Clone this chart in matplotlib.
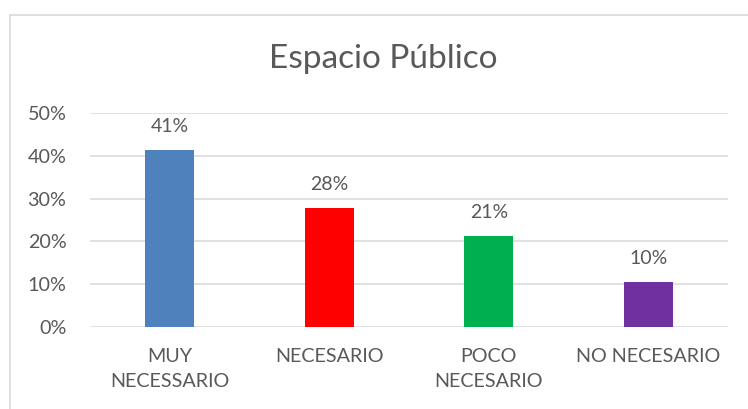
import matplotlib
matplotlib.use("Agg")
import matplotlib.pyplot as plt
from matplotlib.lines import Line2D

categories = ["MUY\nNECESSARIO", "NECESARIO", "POCO\nNECESARIO", "NO NECESARIO"]
values = [0.414, 0.278, 0.212, 0.104]
labels = ["41%", "28%", "21%", "10%"]
colors = ["#4F81BD", "#FF0000", "#00B050", "#7030A0"]
yticks = [0, 0.1, 0.2, 0.3, 0.4, 0.5]

W, H = 748, 409
txt = "#595959"
plt.rcParams["font.family"] = ["Lato", "DejaVu Sans"]

fig = plt.figure(figsize=(W / 100, H / 100), dpi=100)
ax = fig.add_axes([90 / W, 1 - 327 / H, 638 / W, 214 / H])

x = list(range(len(categories)))
ax.bar(x, values, width=0.31, color=colors, zorder=3)
for xi, v, lab in zip(x, values, labels):
    ax.annotate(lab, (xi, v), xytext=(0, 11), textcoords="offset points",
                ha="center", va="bottom", fontsize=14, color=txt)

ax.set_xlim(-0.5, len(categories) - 0.5)
ax.set_ylim(0, 0.5)
ax.set_yticks(yticks)
ax.set_yticklabels([f"{int(round(t * 100))}%" for t in yticks])
ax.set_xticks(x)
ax.set_xticklabels(categories, linespacing=1.6)
ax.tick_params(axis="both", length=0, labelsize=14.2, labelcolor=txt)
ax.tick_params(axis="x", pad=15)
ax.tick_params(axis="y", pad=17)
ax.yaxis.grid(True, color="#D9D9D9", linewidth=1.1, zorder=0)
for s in ax.spines.values():
    s.set_visible(False)

fig.text(383 / W, 1 - 59 / H, "Espacio Público", ha="center", va="center",
         fontsize=24, color=txt)

# chart border
bx, by = 9.5 / W, 1 - 14.5 / H
fig.add_artist(Line2D([bx, bx], [0, by], transform=fig.transFigure,
                      color="#D9D9D9", linewidth=1.2))
fig.add_artist(Line2D([bx, 1], [by, by], transform=fig.transFigure,
                      color="#D9D9D9", linewidth=1.2))

fig.savefig("out.png", dpi=100)
